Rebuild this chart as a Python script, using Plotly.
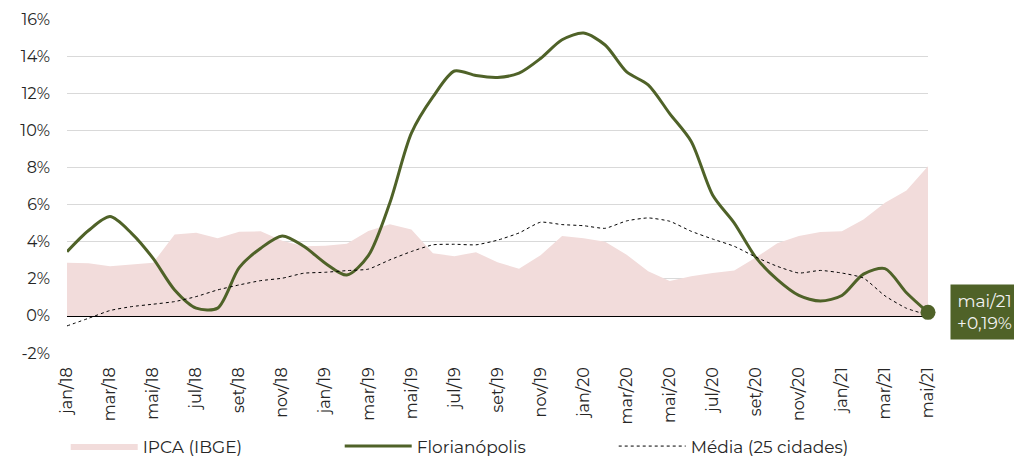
import plotly.graph_objects as go

# --- dados (acumulado em 12 meses, %) -------------------------------------
months = [
    "jan/18", "fev/18", "mar/18", "abr/18", "mai/18", "jun/18", "jul/18", "ago/18",
    "set/18", "out/18", "nov/18", "dez/18",
    "jan/19", "fev/19", "mar/19", "abr/19", "mai/19", "jun/19", "jul/19", "ago/19",
    "set/19", "out/19", "nov/19", "dez/19",
    "jan/20", "fev/20", "mar/20", "abr/20", "mai/20", "jun/20", "jul/20", "ago/20",
    "set/20", "out/20", "nov/20", "dez/20",
    "jan/21", "fev/21", "mar/21", "abr/21", "mai/21",
]

ipca = [
    2.86, 2.84, 2.68, 2.76, 2.86, 4.39, 4.48, 4.19, 4.53, 4.56, 4.05, 3.75,
    3.78, 3.89, 4.58, 4.94, 4.66, 3.37, 3.22, 3.43, 2.89, 2.54, 3.27, 4.31,
    4.19, 4.00, 3.30, 2.40, 1.88, 2.13, 2.31, 2.44, 3.14, 3.92, 4.31, 4.52,
    4.56, 5.20, 6.10, 6.76, 8.06,
]

florianopolis = [
    3.46, 4.60, 5.35, 4.45, 3.10, 1.40, 0.42, 0.42, 2.60, 3.65, 4.31, 3.75,
    2.84, 2.20, 3.25, 6.10, 9.85, 11.80, 13.20, 12.95,
    12.85, 13.08, 13.87, 14.88, 15.24, 14.60, 13.15, 12.45, 10.90, 9.40,
    6.50, 5.00, 3.15, 1.95, 1.10, 0.80, 1.10, 2.25, 2.55, 1.25, 0.19,
]

media = [
    -0.54, -0.13, 0.29, 0.50, 0.63, 0.77, 1.04, 1.40, 1.67, 1.90, 2.03, 2.30,
    2.35, 2.44, 2.52, 3.02, 3.47, 3.83, 3.86, 3.83,
    4.08, 4.47, 5.05, 4.92, 4.86, 4.72, 5.12, 5.28, 5.10, 4.56,
    4.14, 3.75, 3.17, 2.67, 2.31, 2.45, 2.31, 2.04, 1.08, 0.41, 0.05,
]

y_ticks = [-2, 0, 2, 4, 6, 8, 10, 12, 14, 16]
y_labels = [f"{v}%" for v in y_ticks]

GREEN = "#4F6228"
PINK = "#F2DCDB"
TEXT = "#262626"
FONT = "Montserrat, Open Sans, sans-serif"

Y_MIN, Y_MAX = -2, 16
PLOT_H = 334

fig = go.Figure()

fig.add_trace(go.Scatter(
    x=months, y=ipca, name="IPCA (IBGE)", mode="lines",
    line=dict(width=0, color=PINK), fill="tozeroy", fillcolor=PINK,
))
fig.add_trace(go.Scatter(
    x=months, y=florianopolis, name="Florianópolis", mode="lines",
    line=dict(color=GREEN, width=3, shape="spline", smoothing=0.8),
))
fig.add_trace(go.Scatter(
    x=months, y=media, name="Média (25 cidades)", mode="lines",
    line=dict(color="#000000", width=1, dash="dot", shape="spline", smoothing=0.5),
))
# ponto final de Florianópolis
fig.add_trace(go.Scatter(
    x=[months[-1]], y=[florianopolis[-1]], mode="markers",
    marker=dict(color=GREEN, size=15), showlegend=False, cliponaxis=False,
))

fig.add_annotation(
    x=months[-1], y=florianopolis[-1],
    text=f"{months[-1]}<br>+{florianopolis[-1]:.2f}%".replace(".", ","),
    showarrow=False, xanchor="left", yanchor="middle", xshift=22,
    bgcolor=GREEN, borderpad=6, align="center",
    font=dict(color="#F2F2F2", size=17, family=FONT),
)

# eixo auxiliar só para os traços cruzando a linha do zero
pos_zero = (0 - Y_MIN) / (Y_MAX - Y_MIN) + 6 / PLOT_H

fig.update_layout(
    width=1014, height=457,
    paper_bgcolor="white", plot_bgcolor="white",
    font=dict(family=FONT, color=TEXT, size=16),
    margin=dict(l=67, r=86, t=19, b=104, autoexpand=False),
    showlegend=True,
    legend=dict(
        orientation="h", x=-0.0015, xanchor="left", y=-0.28, yanchor="middle",
        font=dict(size=17, color=TEXT), entrywidth=192, entrywidthmode="pixels",
        itemwidth=67, bgcolor="rgba(0,0,0,0)",
    ),
    xaxis=dict(
        type="category", range=[0, len(months) - 1],
        tickvals=months[::2], tickangle=-90, automargin=False,
        showgrid=False, zeroline=False, showline=False, ticks="",
        tickfont=dict(size=16, color=TEXT), ticklabelstandoff=10,
    ),
    xaxis2=dict(
        type="category", overlaying="x", anchor="free", position=pos_zero,
        range=[0, len(months) - 1], categoryarray=months, categoryorder="array",
        tickvals=months[::2], showticklabels=False,
        ticks="outside", ticklen=12, tickcolor="#000000", tickwidth=1.3,
        showgrid=False, zeroline=False, showline=False,
    ),
    yaxis=dict(
        range=[Y_MIN, Y_MAX], tickvals=y_ticks, ticktext=y_labels,
        showgrid=True, gridcolor="#D9D9D9", gridwidth=1.2, automargin=False,
        zeroline=True, zerolinecolor="#000000", zerolinewidth=1.5,
        showline=False, ticks="", ticklabelstandoff=16,
        tickfont=dict(size=16, color=TEXT),
    ),
)

# a página padrão tem margem de 8px no body; zera para alinhar em 1014x457
fig.write_html(
    "out.html",
    config={"displayModeBar": False},
    post_script="document.body.style.margin='0';",
)
